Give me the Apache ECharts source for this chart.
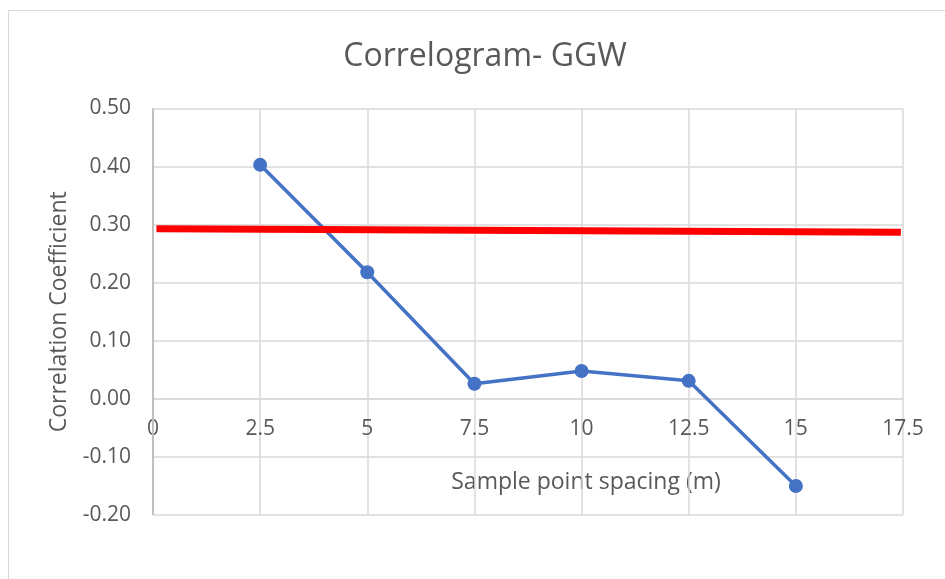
<!DOCTYPE html>
<html>
<head>
<meta charset="utf-8">
<script src="https://cdn.jsdelivr.net/npm/echarts@6/dist/echarts.min.js"></script>
<style>
  html, body { margin: 0; padding: 0; background: #fff; }
  #chart { width: 945px; height: 579px; }
</style>
</head>
<body>
<div id="chart"></div>
<script>
// lag spacing (m) and correlation values
var spacing = [2.5, 5, 7.5, 10, 12.5, 15];
var coeff = [0.403, 0.218, 0.026, 0.048, 0.031, -0.150];
// red significance line (slightly sloped)
var limitX = [0.08, 17.45];
var limitY = [0.293, 0.287];

var textColor = '#595959';
var font = 'Open Sans';

var chart = echarts.init(document.getElementById('chart'));
chart.setOption({
  backgroundColor: '#fff',
  animation: false,
  title: {
    text: 'Correlogram- GGW',
    left: 480,
    textAlign: 'center',
    top: 36,
    textStyle: { fontFamily: font, fontSize: 32, fontWeight: 'normal', color: textColor }
  },
  graphic: [{
    type: 'rect',
    shape: { x: 8.5, y: 10.5, width: 1000, height: 1000 },
    style: { fill: 'none', stroke: '#d9d9d9', lineWidth: 1 }
  }, {
    type: 'text',
    x: 586, y: 482,
    style: {
      text: 'Sample point spacing (m)',
      fontFamily: font, fontSize: 23, fill: textColor,
      align: 'center', verticalAlign: 'middle'
    }
  }],
  grid: { left: 153, right: 42, top: 108.5, bottom: 64, containLabel: false },
  xAxis: {
    type: 'value',
    min: 0, max: 17.5, interval: 2.5,
    // labels sit on the zero line, like the original
    offset: -116.1,
    axisLine: { onZero: false, lineStyle: { color: '#d9d9d9', width: 1.5 } },
    axisTick: { show: false },
    axisLabel: {
      fontFamily: font, fontSize: 21, color: textColor, margin: 20,
      formatter: function (v) { return String(v); }
    },
    splitLine: { show: true, lineStyle: { color: '#d9d9d9', width: 1.5 } }
  },
  yAxis: {
    type: 'value',
    min: -0.2, max: 0.5, interval: 0.1,
    name: 'Correlation Coefficient',
    nameLocation: 'middle',
    nameGap: 82,
    nameTextStyle: { fontFamily: font, fontSize: 23, color: textColor },
    axisLine: { show: false },
    axisTick: { show: false },
    axisLabel: {
      fontFamily: font, fontSize: 21, color: textColor, margin: 22,
      formatter: function (v) { return v.toFixed(2); }
    },
    splitLine: { show: true, lineStyle: { color: '#d9d9d9', width: 1.5 } }
  },
  series: [{
    type: 'line',
    data: spacing.map(function (x, i) { return [x, coeff[i]]; }),
    symbol: 'circle',
    symbolSize: 14,
    lineStyle: { color: '#4472C4', width: 3.5 },
    itemStyle: { color: '#4472C4' },
    z: 3
  }, {
    type: 'line',
    data: limitX.map(function (x, i) { return [x, limitY[i]]; }),
    symbol: 'none',
    lineStyle: { color: '#ff0000', width: 7, cap: 'butt' },
    z: 4
  }, {
    // darker vertical axis line at x = 0
    type: 'line',
    data: [[0, -0.2], [0, 0.5]],
    symbol: 'none',
    lineStyle: { color: '#bfbfbf', width: 2 },
    silent: true,
    z: 2
  }]
});
</script>
</body>
</html>
